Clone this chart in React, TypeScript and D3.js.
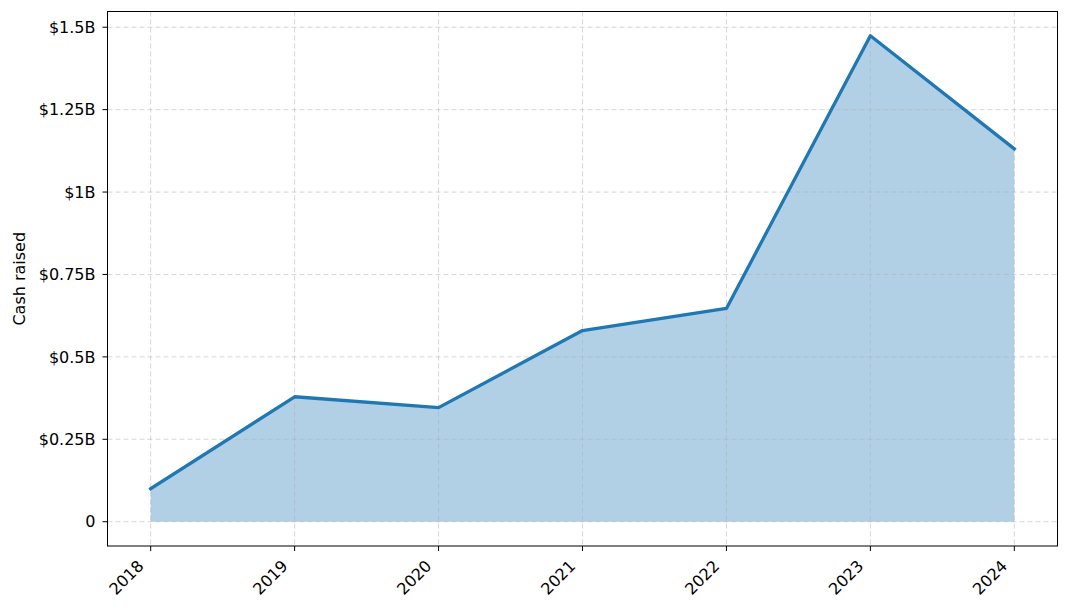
import React from "react";
import * as d3 from "d3";

const years = [2018, 2019, 2020, 2021, 2022, 2023, 2024];
const cashRaised = [0.1, 0.379, 0.346, 0.58, 0.647, 1.474, 1.131]; // billions USD
const yTicks = [0, 0.25, 0.5, 0.75, 1, 1.25, 1.5];
const yTickLabels = ["0", "$0.25B", "$0.5B", "$0.75B", "$1B", "$1.25B", "$1.5B"];

const W = 1069, H = 612;
const M = { left: 107.5, right: 1057.5, top: 11.5, bottom: 546 };
const FONT = "DejaVu Sans, sans-serif";

export default function App() {
  const maxV = d3.max(cashRaised)!;
  const pad = maxV * 0.05;
  const x = d3.scaleLinear().domain([2017.7, 2024.3]).range([M.left, M.right]);
  const y = d3.scaleLinear().domain([-pad, maxV + pad]).range([M.bottom, M.top]);
  const pts = years.map((yr, i) => [yr, cashRaised[i]] as [number, number]);
  const area = d3.area<[number, number]>().x(d => x(d[0])).y0(y(0)).y1(d => y(d[1]))(pts)!;
  const line = d3.line<[number, number]>().x(d => x(d[0])).y(d => y(d[1]))(pts)!;
  return (
    <svg width={W} height={H} style={{ position: "absolute", left: 0, top: 0, background: "#fff" }}>
      <rect x={0} y={0} width={W} height={H} fill="#fff" />
      <path d={area} fill="#1f77b4" fillOpacity={0.35} />
      {years.map(yr => (
        <line key={"gx" + yr} x1={x(yr)} x2={x(yr)} y1={M.top} y2={M.bottom} stroke="#b0b0b0" strokeOpacity={0.5} strokeDasharray="5,3" strokeWidth={1} />
      ))}
      {yTicks.map(t => (
        <line key={"gy" + t} x1={M.left} x2={M.right} y1={y(t)} y2={y(t)} stroke="#b0b0b0" strokeOpacity={0.5} strokeDasharray="5,3" strokeWidth={1} />
      ))}
      <path d={line} fill="none" stroke="#1f77b4" strokeWidth={3.3} strokeLinejoin="round" strokeLinecap="square" />
      <rect x={M.left} y={M.top} width={M.right - M.left} height={M.bottom - M.top} fill="none" stroke="#000" strokeWidth={1} />
      {yTicks.map((t, i) => (
        <g key={"yt" + t}>
          <line x1={M.left - 5} x2={M.left} y1={y(t)} y2={y(t)} stroke="#000" />
          <text x={M.left - 12} y={y(t)} dy="0.36em" textAnchor="end" fontFamily={FONT} fontSize={16}>{yTickLabels[i]}</text>
        </g>
      ))}
      {years.map(yr => (
        <g key={"xt" + yr}>
          <line x1={x(yr)} x2={x(yr)} y1={M.bottom} y2={M.bottom + 5} stroke="#000" />
          <text transform={`translate(${x(yr) - 6},${M.bottom + 21}) rotate(-45)`} textAnchor="end" fontFamily={FONT} fontSize={16}>{yr}</text>
        </g>
      ))}
      <text transform={`translate(25,${(M.top + M.bottom) / 2}) rotate(-90)`} textAnchor="middle" fontFamily={FONT} fontSize={16}>Cash raised</text>
    </svg>
  );
}
